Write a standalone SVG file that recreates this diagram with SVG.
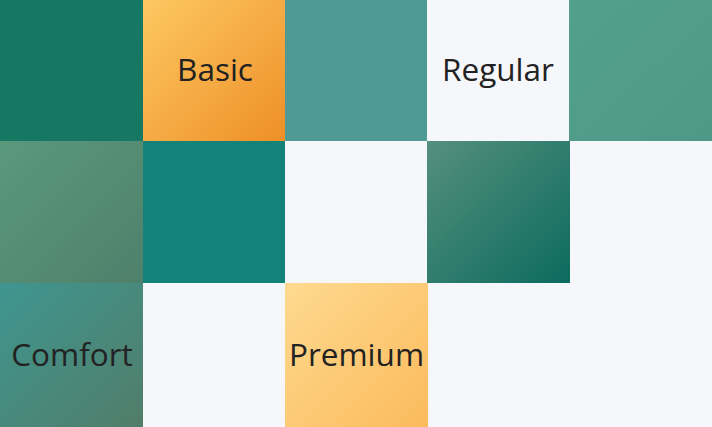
<svg xmlns="http://www.w3.org/2000/svg" width="712" height="427" viewBox="0 0 712 427">
<defs>
<linearGradient id="gBasic" x1="0" y1="0" x2="1" y2="1"><stop offset="0" stop-color="#fdc862"/><stop offset="1" stop-color="#ee8f27"/></linearGradient>
<linearGradient id="gR0C4" x1="0" y1="0" x2="1" y2="1"><stop offset="0" stop-color="#53a08f"/><stop offset="1" stop-color="#4f9887"/></linearGradient>
<linearGradient id="gR1C0" x1="0" y1="0" x2="1" y2="1"><stop offset="0" stop-color="#5a987c"/><stop offset="1" stop-color="#4f806b"/></linearGradient>
<linearGradient id="gR1C3" x1="0" y1="0" x2="1" y2="1"><stop offset="0" stop-color="#558f7d"/><stop offset="1" stop-color="#0c6b5e"/></linearGradient>
<linearGradient id="gComfort" x1="0" y1="0" x2="1" y2="1"><stop offset="0" stop-color="#3f9690"/><stop offset="1" stop-color="#517d69"/></linearGradient>
<linearGradient id="gPremium" x1="0" y1="0" x2="1" y2="1"><stop offset="0" stop-color="#feda90"/><stop offset="1" stop-color="#fbba5c"/></linearGradient>
</defs>
<style>
text{font-family:"Open Sans","Noto Sans",sans-serif;font-size:31.5px;fill:#222;text-anchor:middle}
</style>
<rect width="712" height="427" fill="#f5f7fb"/>
<g id="cell-r0c0"><rect x="0" y="0" width="143" height="141" fill="#167762"/></g>
<g id="basic"><rect x="143" y="0" width="142" height="141" fill="url(#gBasic)"/><text x="215" y="81">Basic</text></g>
<g id="cell-r0c2"><rect x="285" y="0" width="142" height="141" fill="#4f9a94"/></g>
<g id="regular"><rect x="427" y="0" width="142" height="141" fill="#f5f7fa"/><text x="498" y="81">Regular</text></g>
<g id="cell-r0c4"><rect x="569" y="0" width="143" height="141" fill="url(#gR0C4)"/></g>
<g id="cell-r1c0"><rect x="0" y="141" width="143" height="142" fill="url(#gR1C0)"/></g>
<g id="cell-r1c1"><rect x="143" y="141" width="142" height="142" fill="#13837a"/></g>
<g id="cell-r1c2"><rect x="285" y="141" width="142" height="142" fill="#f5f7fb"/></g>
<g id="cell-r1c3"><rect x="427" y="141" width="143" height="142" fill="url(#gR1C3)"/></g>
<g id="comfort"><rect x="0" y="283" width="143" height="144" fill="url(#gComfort)"/><text x="72" y="366">Comfort</text></g>
<g id="cell-r2c1"><rect x="143" y="283" width="142" height="144" fill="#f5f7fa"/></g>
<g id="premium"><rect x="285" y="283" width="143" height="144" fill="url(#gPremium)"/><text x="356.5" y="366">Premium</text></g>
<g id="connectors"/>
</svg>
